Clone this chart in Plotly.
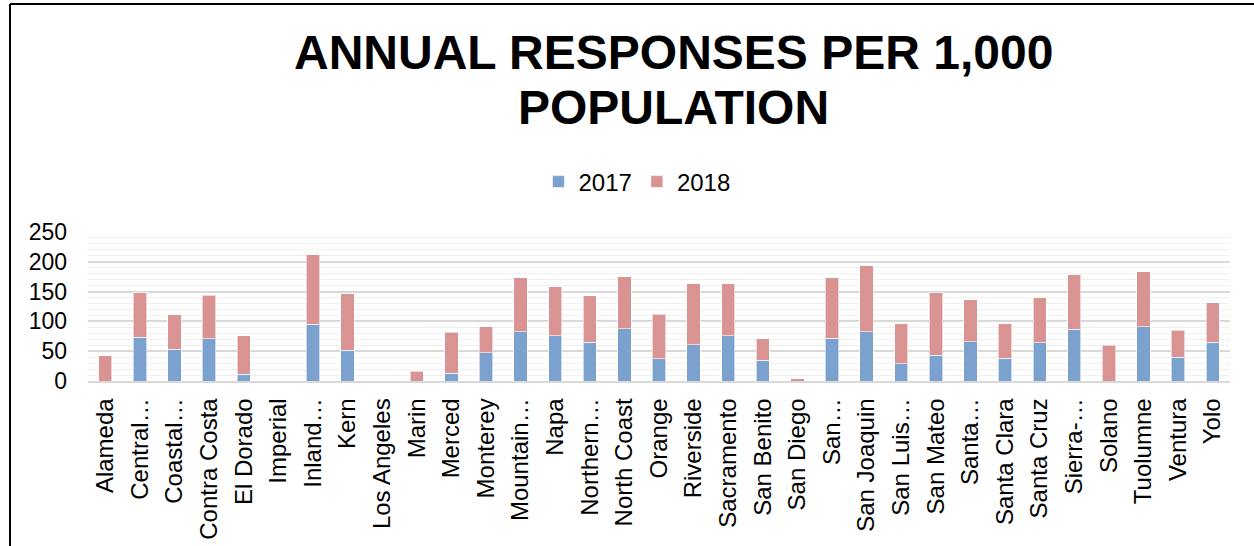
import plotly.graph_objects as go

categories = ["Alameda", "Central…", "Coastal…", "Contra Costa", "El Dorado", "Imperial",
              "Inland…", "Kern", "Los Angeles", "Marin", "Merced", "Monterey", "Mountain…",
              "Napa", "Northern…", "North Coast", "Orange", "Riverside", "Sacramento",
              "San Benito", "San Diego", "San…", "San Joaquin", "San Luis…", "San Mateo",
              "Santa…", "Santa Clara", "Santa Cruz", "Sierra-…", "Solano", "Tuolumne",
              "Ventura", "Yolo"]
v2017 = [0, 73, 53, 71, 11, 0, 95, 52, 0, 0, 13, 47, 83, 76, 65, 88, 37, 61, 76, 35, 0,
         72, 83, 29, 43, 66, 38, 64, 87, 0, 91, 40, 65]
v2018 = [42, 75, 58, 73, 65, 0, 117, 94, 0, 16, 69, 44, 90, 82, 78, 87, 75, 102, 87, 36, 4,
         101, 110, 67, 105, 70, 58, 76, 91, 60, 92, 45, 66]
y_ticks = [0, 50, 100, 150, 200, 250]
title_lines = ["ANNUAL RESPONSES PER 1,000", "POPULATION"]

FONT = "Liberation Sans, Arial, sans-serif"
W, H = 1254, 546
L, R, T, B = 88, 24, 232, 165
pw, ph = W - L - R, H - T - B


def px_to_paper_x(px):
    return (px - L) / pw


def px_to_paper_y(py):
    return (H - B - py) / ph


fig = go.Figure()
fig.add_trace(go.Bar(name="2017", x=categories, y=v2017, marker_color="#7ba1cf",
                     marker_line=dict(color="rgba(255,255,255,0.6)", width=1)))
fig.add_trace(go.Bar(name="2018", x=categories, y=v2018, marker_color="#d99392",
                     marker_line=dict(color="rgba(255,255,255,0.6)", width=1)))

annotations = []
for line, cy in zip(title_lines, [52, 107]):
    annotations.append(dict(text="<b>" + line + "</b>", xref="paper", yref="paper",
                            x=px_to_paper_x(673), y=px_to_paper_y(cy),
                            xanchor="center", yanchor="middle", showarrow=False,
                            font=dict(family=FONT, size=48, color="#000000")))

fig.update_layout(
    width=W, height=H,
    margin=dict(l=L, r=R, t=T, b=B, autoexpand=False),
    barmode="stack", bargap=0.615,
    plot_bgcolor="white", paper_bgcolor="white",
    font=dict(family=FONT, color="#000000", size=23),
    annotations=annotations,
    legend=dict(orientation="h", xref="container", yref="container",
                x=637 / W, xanchor="center", y=1 - 182 / H, yanchor="middle",
                font=dict(size=24, color="#000000"), itemwidth=30,
                traceorder="normal", bgcolor="rgba(0,0,0,0)"),
    xaxis=dict(showline=True, linecolor="#d9d9d9", linewidth=1.5, tickangle=-90,
               ticks="", showgrid=False, tickfont=dict(size=24, color="#000000"),
               ticklabelstandoff=6, fixedrange=True),
    yaxis=dict(range=[0, 250], tickvals=y_ticks, showgrid=True, gridcolor="#d9d9d9",
               gridwidth=1.5, zeroline=False, showline=False, ticks="",
               tickfont=dict(size=23, color="#000000"), ticklabelstandoff=20,
               minor=dict(dtick=10, showgrid=True, gridcolor="#f0f0f0", gridwidth=1.2),
               fixedrange=True),
    shapes=[
        dict(type="line", xref="paper", yref="paper",
             x0=px_to_paper_x(10), x1=px_to_paper_x(10),
             y0=px_to_paper_y(4), y1=px_to_paper_y(560),
             line=dict(color="#000000", width=2)),
        dict(type="line", xref="paper", yref="paper",
             x0=px_to_paper_x(10), x1=px_to_paper_x(1270),
             y0=px_to_paper_y(4), y1=px_to_paper_y(4),
             line=dict(color="#000000", width=2)),
    ],
)

fig.write_html("out.html", config={"displayModeBar": False},
               post_script="document.body.style.margin='0';document.body.style.padding='0';")
